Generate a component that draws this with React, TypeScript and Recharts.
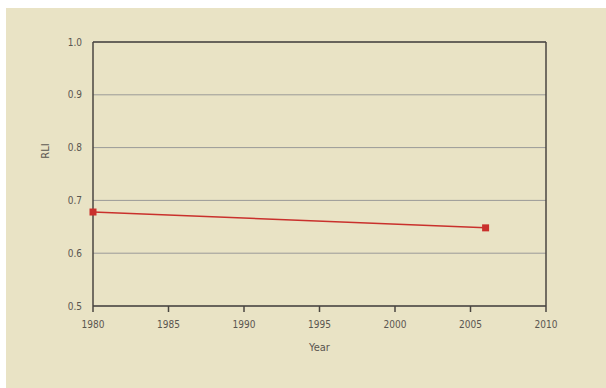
import { LineChart, Line, XAxis, YAxis, CartesianGrid, ReferenceLine, Label } from 'recharts';

const years = [1980, 2006];
const rliValues = [0.678, 0.648];
const xTicks = [1980, 1985, 1990, 1995, 2000, 2005, 2010];
const yTicks = [0.5, 0.6, 0.7, 0.8, 0.9, 1.0];

const data = years.map((year, i) => ({ year, rli: rliValues[i] }));

const font = '"Liberation Sans Narrow", "DejaVu Sans Condensed", "Liberation Sans", sans-serif';
const axisColor = '#4a4640';
const textColor = '#5a5650';

// square red marker
const SquareDot = (props: any) => {
  const { cx, cy } = props;
  if (cx == null || cy == null) return null;
  return <rect x={cx - 3.5} y={cy - 3.5} width={7} height={7} fill="#c9302c" />;
};

// y title sits above the middle of the axis in the original
const RliTitle = () => (
  <text x={43} y={143} transform="rotate(-90 43 143)" textAnchor="middle" fill={textColor} fontSize={11}>
    RLI
  </text>
);

export default function App() {
  return (
    <div style={{ position: 'absolute', left: 6, top: 8, width: 600, height: 380, background: '#e9e3c5' }}>
      <LineChart
        width={600}
        height={380}
        data={data}
        margin={{ top: 34, right: 60, left: 57, bottom: 42 }}
        style={{ fontFamily: font }}
      >
        <CartesianGrid vertical={false} stroke="#9a9a98" strokeWidth={1} />
        <XAxis
          dataKey="year"
          type="number"
          domain={[1980, 2010]}
          ticks={xTicks}
          height={40}
          stroke={axisColor}
          strokeWidth={1.5}
          tickSize={6}
          tickMargin={9}
          tick={{ fill: textColor, fontSize: 10 }}
        >
          <Label value="Year" position="insideBottom" offset={0} dy={5} style={{ fill: textColor, fontSize: 11 }} />
        </XAxis>
        <YAxis
          type="number"
          domain={[0.5, 1.0]}
          ticks={yTicks}
          width={30}
          stroke={axisColor}
          strokeWidth={1.5}
          tickLine={false}
          tickMargin={5}
          tickFormatter={(v: number) => v.toFixed(1)}
          tick={{ fill: textColor, fontSize: 10 }}
        >
          <Label content={<RliTitle />} />
        </YAxis>
        <ReferenceLine y={1.0} stroke={axisColor} strokeWidth={1.5} />
        <ReferenceLine x={2010} stroke={axisColor} strokeWidth={1.5} />
        <Line
          dataKey="rli"
          stroke="#c9302c"
          strokeWidth={1.5}
          dot={<SquareDot />}
          activeDot={false}
          isAnimationActive={false}
        />
      </LineChart>
    </div>
  );
}
